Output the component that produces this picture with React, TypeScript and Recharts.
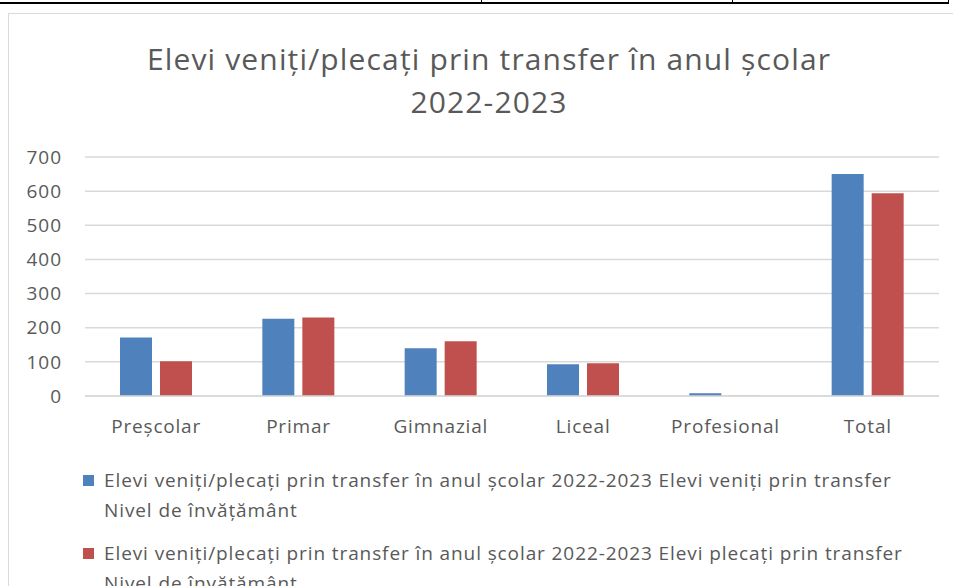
import { Bar, BarChart, CartesianGrid, XAxis, YAxis } from "recharts";

const levels = ["Preșcolar", "Primar", "Gimnazial", "Liceal", "Profesional", "Total"];
const incoming = [171, 226, 140, 93, 8, 650];
const outgoing = [102, 230, 160, 96, 1, 594];
const yTicks = [0, 100, 200, 300, 400, 500, 600, 700];
const titleLines = ["Elevi veniți/plecați prin transfer în anul școlar", "2022-2023"];
const seriesNames = [
  "Elevi veniți/plecați prin transfer în anul școlar 2022-2023 Elevi veniți prin transfer",
  "Elevi veniți/plecați prin transfer în anul școlar 2022-2023 Elevi plecați prin transfer",
];
const seriesSuffix = "Nivel de învățământ";
const seriesColors = ["#4F81BD", "#C0504D"];

const data = levels.map((level, i) => ({
  level,
  incoming: incoming[i],
  outgoing: outgoing[i],
}));

const FONT = "'Open Sans', Lato, sans-serif";
const TEXT = "#595959";

export default function App() {
  return (
    <div
      style={{
        position: "absolute",
        left: 0,
        top: 0,
        width: 953,
        height: 586,
        overflow: "hidden",
        background: "#fff",
        fontFamily: FONT,
      }}
    >
      {/* table edge above the chart */}
      <div style={{ position: "absolute", left: 0, top: 2, width: 949, borderTop: "2px solid #000" }} />
      {[481, 732, 948].map((x) => (
        <div key={x} style={{ position: "absolute", left: x, top: 0, height: 4, borderLeft: "1.5px solid #000" }} />
      ))}

      {/* chart frame */}
      <div
        style={{
          position: "absolute",
          left: 8,
          top: 13,
          width: 980,
          height: 620,
          border: "1.5px solid #d9d9d9",
        }}
      />

      <div
        style={{
          position: "absolute",
          left: 0,
          top: 37,
          width: 978,
          textAlign: "center",
          color: TEXT,
          fontSize: 30,
          lineHeight: "43px",
          letterSpacing: 1.15,
        }}
      >
        {titleLines.map((t) => (
          <div key={t}>{t}</div>
        ))}
      </div>

      <BarChart
        width={953}
        height={586}
        data={data}
        margin={{ top: 157, right: 14, left: 8, bottom: 160 }}
        barSize={32}
        barGap={8}
        style={{ position: "absolute", left: 0, top: 0 }}
      >
        <CartesianGrid vertical={false} stroke="#d9d9d9" strokeWidth={1.5} />
        <XAxis
          dataKey="level"
          height={30}
          tickSize={0}
          tickMargin={24}
          axisLine={{ stroke: "#d9d9d9", strokeWidth: 1.5 }}
          tick={{ fontSize: 19, fill: TEXT, fontFamily: FONT, letterSpacing: 0.8 }}
          interval={0}
        />
        <YAxis
          width={77}
          domain={[0, 700]}
          ticks={yTicks}
          tickSize={0}
          tickMargin={23}
          axisLine={false}
          tick={{ fontSize: 19, fill: TEXT, fontFamily: FONT, letterSpacing: 1 }}
        />
        <Bar dataKey="incoming" name={seriesNames[0]} fill={seriesColors[0]} isAnimationActive={false} />
        <Bar dataKey="outgoing" name={seriesNames[1]} fill={seriesColors[1]} isAnimationActive={false} />
      </BarChart>

      {/* legend */}
      {seriesNames.map((name, i) => (
        <div
          key={name}
          style={{
            position: "absolute",
            left: 83,
            top: 465 + i * 73,
            color: TEXT,
            fontSize: 19,
            lineHeight: "30px",
            letterSpacing: 0.9,
          }}
        >
          <span
            style={{
              position: "absolute",
              left: 0,
              top: 10,
              width: 11,
              height: 11,
              background: seriesColors[i],
            }}
          />
          <div style={{ marginLeft: 21, whiteSpace: "nowrap" }}>{name}</div>
          <div style={{ marginLeft: 21, whiteSpace: "nowrap" }}>{seriesSuffix}</div>
        </div>
      ))}
    </div>
  );
}
